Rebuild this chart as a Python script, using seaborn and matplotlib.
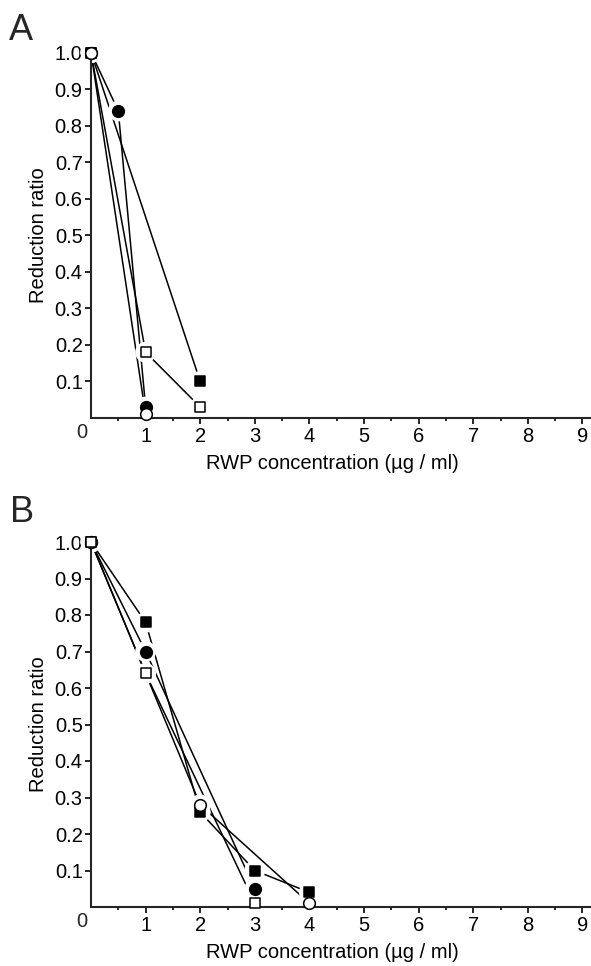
import numpy as np
import pandas as pd
import seaborn as sns
import matplotlib
matplotlib.use("Agg")
import matplotlib.pyplot as plt
from matplotlib.ticker import FixedLocator

# ---------------- data ----------------
# Panel A
a_fsq_x = [0, 2]
a_fsq_y = [1.0, 0.10]
a_osq_x = [0, 1, 2]
a_osq_y = [1.0, 0.18, 0.03]
a_fci_x = [0, 0.5, 1]
a_fci_y = [1.0, 0.84, 0.03]
a_oci_x = [0, 1]
a_oci_y = [1.0, 0.01]

# Panel B
b_fsq_x = [0, 1, 2, 3, 4]
b_fsq_y = [1.0, 0.78, 0.26, 0.10, 0.04]
b_fci_x = [0, 1, 3]
b_fci_y = [1.0, 0.70, 0.05]
b_oci_x = [0, 2, 4]
b_oci_y = [1.0, 0.28, 0.01]
b_osq_x = [0, 1, 3]
b_osq_y = [1.0, 0.64, 0.01]

x_ticks = [1, 2, 3, 4, 5, 6, 7, 8, 9]
y_ticks = [0.1, 0.2, 0.3, 0.4, 0.5, 0.6, 0.7, 0.8, 0.9, 1.0]
x_label = "RWP concentration (\u00b5g / ml)"
y_label = "Reduction ratio"
panel_labels = ["A", "B"]

# ---------------- style ----------------
sns.set_style("ticks")
plt.rcParams["font.family"] = ["Liberation Sans", "DejaVu Sans"]

W, H = 591, 966
fig = plt.figure(figsize=(W / 100, H / 100), dpi=100)

def ax_rect(left_px, top_px, right_px, bottom_px):
    return [left_px / W, 1 - bottom_px / H, (right_px - left_px) / W, (bottom_px - top_px) / H]

XMAX = 9.15
axA = fig.add_axes(ax_rect(91, 52.5, 91 + XMAX * 54.6, 418))
axB = fig.add_axes(ax_rect(91, 542, 91 + XMAX * 54.6, 907))

FS = 14.5

styles = {
    "fsq": dict(marker="s", face="black", ms=7.6),
    "osq": dict(marker="s", face="white", ms=7.6),
    "fci": dict(marker="o", face="black", ms=8.4),
    "oci": dict(marker="o", face="white", ms=8.4),
}

def draw_series(ax, xs, ys, kind):
    df = pd.DataFrame({"x": xs, "y": ys})
    sns.lineplot(data=df, x="x", y="y", ax=ax, color="black", linewidth=1.1,
                 sort=False, estimator=None, zorder=1.5)
    # white halo so lines stop short of markers
    sns.scatterplot(data=df, x="x", y="y", ax=ax, marker="o", s=15.0 ** 2,
                    color="white", edgecolor="none", linewidth=0, zorder=2,
                    clip_on=False, legend=False)

def draw_markers(ax, xs, ys, kind):
    st = styles[kind]
    df = pd.DataFrame({"x": xs, "y": ys})
    sns.scatterplot(data=df, x="x", y="y", ax=ax, marker=st["marker"], s=st["ms"] ** 2,
                    color=st["face"], edgecolor="black", linewidth=1.1, zorder=3,
                    clip_on=False, legend=False)

panelA = [(a_fsq_x, a_fsq_y, "fsq"), (a_osq_x, a_osq_y, "osq"),
          (a_fci_x, a_fci_y, "fci"), (a_oci_x, a_oci_y, "oci")]
panelB = [(b_fsq_x, b_fsq_y, "fsq"), (b_fci_x, b_fci_y, "fci"),
          (b_oci_x, b_oci_y, "oci"), (b_osq_x, b_osq_y, "osq")]

for ax, series in [(axA, panelA), (axB, panelB)]:
    for xs, ys, k in series:
        draw_series(ax, xs, ys, k)
    for xs, ys, k in series:
        draw_markers(ax, xs, ys, k)

    ax.set_xlim(0, XMAX)
    ax.set_ylim(0, 1.0)
    sns.despine(ax=ax)
    for s in ["left", "bottom"]:
        ax.spines[s].set_linewidth(1.5)
        ax.spines[s].set_zorder(2.5)
    ax.xaxis.set_major_locator(FixedLocator(x_ticks))
    ax.xaxis.set_minor_locator(FixedLocator([0.5 + i for i in range(9)]))
    ax.set_xticklabels([str(t) for t in x_ticks])
    ax.yaxis.set_major_locator(FixedLocator(y_ticks))
    ax.set_yticklabels(["%.1f" % t for t in y_ticks])
    ax.tick_params(axis="x", which="major", direction="out", length=4, width=1.2,
                   labelsize=FS, pad=2.5, color="black", labelcolor="black")
    ax.tick_params(axis="x", which="minor", direction="out", length=2.5, width=1.2,
                   color="black")
    ax.tick_params(axis="y", which="major", direction="out", length=4.5, width=1.2,
                   labelsize=FS, pad=1.5, color="black", labelcolor="black")
    ax.set_xlabel(x_label, fontsize=FS, color="black")
    ax.set_ylabel(y_label, fontsize=FS, labelpad=5, color="black")
    ax.xaxis.set_label_coords(0.484, -0.098)
    ax.grid(False)
    ax.text(-0.17, -0.04, "0", fontsize=FS, ha="center", va="center",
            transform=ax.transData, clip_on=False)
    ax.patch.set_alpha(0)

fig.text(9 / W, 1 - 40 / H, panel_labels[0], fontsize=26, ha="left", va="baseline")
fig.text(10 / W, 1 - 522 / H, panel_labels[1], fontsize=26, ha="left", va="baseline")

fig.savefig("out.png", dpi=100, facecolor="white")
